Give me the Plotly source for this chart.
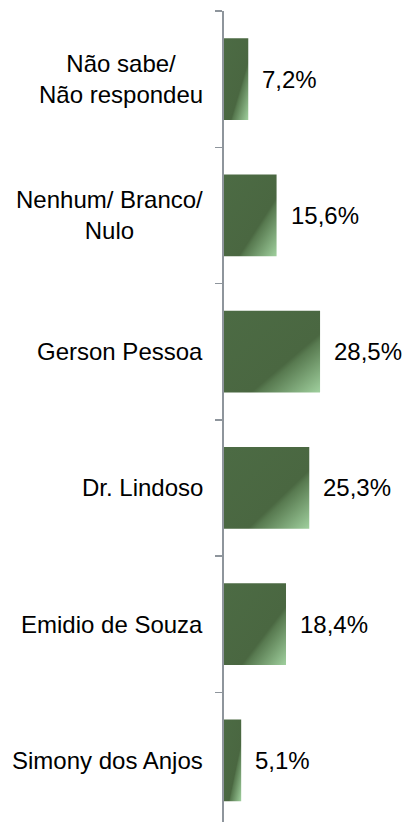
import plotly.graph_objects as go

categories = ["Não sabe/<br>Não respondeu", "Nenhum/ Branco/<br>Nulo", "Gerson Pessoa",
              "Dr. Lindoso", "Emidio de Souza", "Simony dos Anjos"]
values = [7.2, 15.6, 28.5, 25.3, 18.4, 5.1]
value_labels = [f"{v:.1f}%".replace(".", ",") for v in values]

fig = go.Figure()
fig.add_trace(go.Bar(
    y=categories, x=values, orientation="h", width=0.6,
    marker=dict(color="#4a6741", line=dict(width=0)),
    hoverinfo="skip",
))

font = dict(family="Liberation Sans, Arial", size=24, color="#000000")
annotations = []
for c, v, t in zip(categories, values, value_labels):
    annotations.append(dict(
        x=0, xref="paper", y=c, yref="y", text=c, showarrow=False,
        xanchor="right", yanchor="middle", align="center", xshift=-19,
        font=font,
    ))
    annotations.append(dict(
        x=v, xref="x", y=c, yref="y", text=t, showarrow=False,
        xanchor="left", yanchor="middle", xshift=12,
        font=font,
    ))

fig.update_layout(
    width=406, height=822,
    margin=dict(l=224, r=0, t=11, b=0),
    paper_bgcolor="white", plot_bgcolor="white",
    showlegend=False,
    annotations=annotations,
    xaxis=dict(range=[0, 54], visible=False, fixedrange=True),
    yaxis=dict(
        type="category", categoryorder="array", categoryarray=categories,
        range=[5.452, -0.5],
        showticklabels=False, ticks="outside", ticklen=7, tickwidth=1.5,
        tickcolor="#8e959c", showline=True, linecolor="#8e959c", linewidth=2,
        showgrid=False, zeroline=False, fixedrange=True,
        tickson="boundaries",
    ),
)

post_js = """
document.body.style.margin = '0';
document.body.style.overflow = 'hidden';
var gd = document.getElementById('{plot_id}');
var svg = gd.querySelector('svg.main-svg');
var ns = 'http://www.w3.org/2000/svg';
var defs = svg.querySelector('defs');
if (!defs) { defs = document.createElementNS(ns, 'defs'); svg.insertBefore(defs, svg.firstChild); }
var lg = document.createElementNS(ns, 'linearGradient');
lg.setAttribute('id', 'bargrad');
lg.setAttribute('x1', '0'); lg.setAttribute('y1', '0');
lg.setAttribute('x2', '1'); lg.setAttribute('y2', '1');
[['0', '#4c6b44'], ['0.64', '#4a6741'], ['0.68', '#587a50'], ['1', '#a0d09e']].forEach(function (s) {
  var st = document.createElementNS(ns, 'stop');
  st.setAttribute('offset', s[0]);
  st.setAttribute('stop-color', s[1]);
  lg.appendChild(st);
});
defs.appendChild(lg);
gd.querySelectorAll('.bars .point path').forEach(function (p) { p.style.fill = 'url(#bargrad)'; });
"""

fig.write_html("out.html", post_script=post_js,
               config={"displayModeBar": False, "staticPlot": True})
